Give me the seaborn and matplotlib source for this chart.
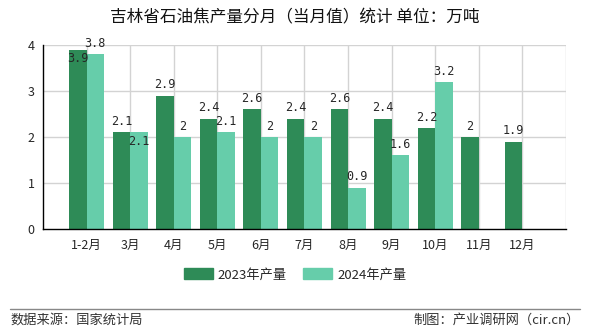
import matplotlib
matplotlib.use("Agg")
import matplotlib.pyplot as plt
import seaborn as sns
import pandas as pd
import numpy as np

months = ["1-2月", "3月", "4月", "5月", "6月", "7月", "8月", "9月", "10月", "11月", "12月"]
prod_2023 = [3.9, 2.1, 2.9, 2.4, 2.6, 2.4, 2.6, 2.4, 2.2, 2.0, 1.9]
prod_2024 = [3.8, 2.1, 2.0, 2.1, 2.0, 2.0, 0.9, 1.6, 3.2, np.nan, np.nan]
series_names = ["2023年产量", "2024年产量"]
colors = ["#2e8b57", "#66cdaa"]

sns.set_style("white")
plt.rcParams['font.family'] = ['Noto Sans CJK SC', 'DejaVu Sans']

df = pd.DataFrame({
    "月份": months * 2,
    "产量": prod_2023 + prod_2024,
    "系列": [series_names[0]] * len(months) + [series_names[1]] * len(months),
})

fig = plt.figure(figsize=(5.9, 3.3), dpi=100)
ax = fig.add_axes([43/590, 1-229/330, (566-43)/590, (229-45)/330])

sns.barplot(data=df, x="月份", y="产量", hue="系列", hue_order=series_names,
            palette=colors, ax=ax, width=0.8, saturation=1, legend=False, zorder=3,
            linewidth=0, edgecolor="none")

ax.set_xlim(-1, 11)
ax.set_ylim(0, 4)
ax.set_xticks(range(-1, 12))
ax.set_xticklabels([""] + months + [""], fontsize=9)
ax.set_yticks([0, 1, 2, 3, 4])
ax.set_yticklabels(["0", "1", "2", "3", "4"], fontsize=9)
ax.set_xlabel("")
ax.set_ylabel("")
ax.tick_params(axis="both", length=4, width=1, color="black", direction="out", pad=2)
ax.tick_params(axis="x", pad=3)

for x in range(0, 12):
    ax.axvline(x, color="#d3d3d3", lw=1, zorder=1)
for y in [1, 2, 3, 4]:
    ax.axhline(y, color="#d3d3d3", lw=1, zorder=1)

for s in ["top", "right"]:
    ax.spines[s].set_visible(False)
for s in ["left", "bottom"]:
    ax.spines[s].set_color("black")
    ax.spines[s].set_linewidth(1)
    ax.spines[s].set_zorder(4)

inside = {(0, 0), (1, 1)}
for si, cont in enumerate(ax.containers):
    vals = prod_2023 if si == 0 else prod_2024
    for i, bar in enumerate(cont.patches):
        v = vals[i] if i < len(vals) else np.nan
        if np.isnan(v):
            continue
        cx = bar.get_x() + bar.get_width() / 2
        if (si, i) in inside:
            ax.annotate(f"{v:g}", (cx, v), xytext=(0, -2), textcoords="offset points",
                        ha="center", va="top", fontsize=8.5, family="DejaVu Sans Mono", zorder=5)
        else:
            ax.annotate(f"{v:g}", (cx, v), xytext=(0, 3), textcoords="offset points",
                        ha="center", va="bottom", fontsize=8.5, family="DejaVu Sans Mono", zorder=5)

fig.text(0.5, 1-18/330, "吉林省石油焦产量分月（当月值）统计 单位：万吨", ha="center", va="center",
         fontsize=12, color="#111111")

handles = [plt.Rectangle((0, 0), 1, 1, color=c) for c in colors]
fig.legend(handles, series_names, loc="center", bbox_to_anchor=(0.5, 1-275/330), ncol=2,
           frameon=False, fontsize=9.5, handlelength=2.2, handleheight=0.9, columnspacing=1.2,
           handletextpad=0.4)

fig.add_artist(plt.Line2D([10/590, 580/590], [1-309/330, 1-309/330], color="#888888", lw=1))
fig.text(10/590, 1-320/330, "数据来源：国家统计局", ha="left", va="center", fontsize=9.5, color="#333333")
fig.text(580/590, 1-320/330, "制图：产业调研网（cir.cn）", ha="right", va="center", fontsize=9.5, color="#333333")

fig.savefig("out.png", dpi=100)
